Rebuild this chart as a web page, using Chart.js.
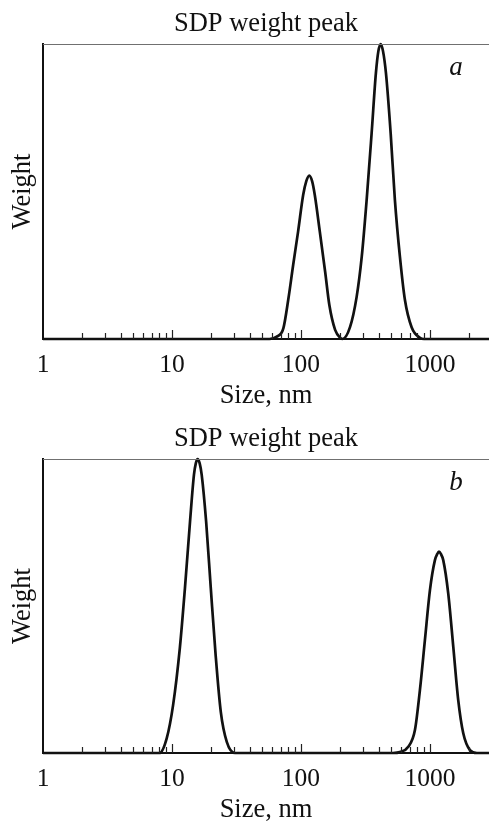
<!DOCTYPE html>
<html>
<head>
<meta charset="utf-8">
<script src="https://cdn.jsdelivr.net/npm/chart.js@4.4.0/dist/chart.umd.min.js"></script>
<style>
  html, body { margin: 0; padding: 0; background: #fff; }
  canvas { display: block; }
</style>
</head>
<body>
<canvas id="chartA" width="489" height="412"></canvas>
<canvas id="chartB" width="489" height="413"></canvas>
<script>
// ---------- data ----------
const sizesA = [1, 57, 65, 73, 80, 87, 95, 104, 110, 116, 122, 128, 140, 154, 166, 184, 203, 210,
                240, 270, 296, 323, 353, 381, 398, 415, 433, 456, 496, 535, 585, 640, 721, 836, 900, 2870];
const weightsA = [0, 0, 0.008, 0.036, 0.138, 0.251, 0.364, 0.488, 0.535, 0.554, 0.535, 0.488, 0.364, 0.228, 0.115, 0.031, 0.003, 0,
                  0.04, 0.142, 0.279, 0.471, 0.697, 0.901, 0.975, 1.0, 0.975, 0.901, 0.697, 0.471, 0.279, 0.132, 0.04, 0.004, 0, 0];

const sizesB = [1, 8.0, 9.1, 10.2, 11.5, 12.6, 13.8, 14.8, 15.3, 15.8, 16.4, 17.0, 18.4, 20.0, 21.8, 23.9, 26.6, 30.8,
                517, 585, 679, 765, 836, 914, 1000, 1093, 1140, 1175, 1215, 1268, 1386, 1517, 1657, 1813, 2042, 2313, 2870];
const weightsB = [0, 0, 0.05, 0.163, 0.356, 0.56, 0.787, 0.946, 0.985, 1.0, 0.985, 0.946, 0.787, 0.56, 0.333, 0.14, 0.038, 0,
                  0, 0.003, 0.021, 0.078, 0.214, 0.384, 0.554, 0.656, 0.677, 0.685, 0.677, 0.656, 0.543, 0.361, 0.18, 0.067, 0.01, 0, 0];

const majorTicks = [1, 10, 100, 1000];
const tickLabels = ['1', '10', '100', '1000'];
const minorTicks = [2, 3, 4, 5, 6, 7, 8, 9, 20, 30, 40, 50, 60, 70, 80, 90,
                    200, 300, 400, 500, 600, 700, 800, 900, 2000];
const xMax = 2870;

const FONT = "'Liberation Serif', 'Times New Roman', serif";
const TEXT_SIZE = 26.5;

// top frame line, inward ticks and panel letter
const frameAndTicks = {
    id: 'frameAndTicks',
    afterDraw(chart, args, opts) {
        const { ctx, chartArea: a, scales: { x } } = chart;
        ctx.save();
        ctx.strokeStyle = '#707070';
        ctx.lineWidth = 1;
        ctx.beginPath();
        ctx.moveTo(a.left, a.top + 0.5);
        ctx.lineTo(a.right, a.top + 0.5);
        ctx.stroke();

        ctx.strokeStyle = '#222';
        ctx.lineWidth = 1.2;
        const tick = (v, len) => {
            const px = Math.round(x.getPixelForValue(v)) + 0.5;
            if (px <= a.left + 2 || px >= a.right) return;
            ctx.beginPath();
            ctx.moveTo(px, a.bottom);
            ctx.lineTo(px, a.bottom - len);
            ctx.stroke();
        };
        minorTicks.forEach(v => tick(v, 6));
        majorTicks.forEach(v => tick(v, 9));

        ctx.font = `italic 27px ${FONT}`;
        ctx.fillStyle = '#111';
        ctx.textAlign = 'center';
        ctx.textBaseline = 'alphabetic';
        ctx.fillText(opts.letter, a.right - 33, a.top + 31);
        ctx.restore();
    }
};

function makePanel(id, sizes, weights, letter, titleTop, plotTop, xAxisH, xTitleBottom) {
    const canvas = document.getElementById(id);
    return new Chart(canvas.getContext('2d'), {
        type: 'line',
        data: {
            datasets: [{
                data: sizes.map((s, i) => ({ x: s, y: weights[i] })),
                borderColor: '#111',
                borderWidth: 2.7,
                pointRadius: 0,
                cubicInterpolationMode: 'monotone',
                fill: false,
                clip: 4
            }]
        },
        options: {
            responsive: false,
            animation: false,
            devicePixelRatio: 1,
            layout: { padding: 0 },
            plugins: {
                legend: { display: false },
                tooltip: { enabled: false },
                title: {
                    display: true,
                    fullSize: false,
                    text: 'SDP weight peak',
                    color: '#111',
                    font: { family: FONT, size: TEXT_SIZE, weight: 'normal' },
                    padding: { top: titleTop, bottom: plotTop - titleTop - TEXT_SIZE * 1.2 }
                },
                frameAndTicks: { letter }
            },
            scales: {
                x: {
                    type: 'logarithmic',
                    min: 1,
                    max: xMax,
                    afterBuildTicks: s => { s.ticks = majorTicks.map(v => ({ value: v })); },
                    afterFit: s => { s.height = xAxisH; },
                    grid: { display: false },
                    border: { display: true, color: '#111', width: 2 },
                    ticks: {
                        autoSkip: false,
                        maxRotation: 0,
                        padding: 3,
                        color: '#111',
                        font: { family: FONT, size: 25.5 },
                        callback: v => tickLabels[majorTicks.indexOf(v)]
                    },
                    title: {
                        display: true,
                        text: 'Size, nm',
                        color: '#111',
                        font: { family: FONT, size: TEXT_SIZE },
                        padding: { top: 0, bottom: xTitleBottom }
                    }
                },
                y: {
                    min: 0,
                    max: 1,
                    afterFit: s => { s.width = 43; },
                    grid: { display: false },
                    border: { display: true, color: '#111', width: 2 },
                    ticks: { display: false },
                    title: {
                        display: true,
                        text: 'Weight',
                        color: '#111',
                        font: { family: FONT, size: TEXT_SIZE },
                        padding: { top: 7, bottom: 0 }
                    }
                }
            }
        },
        plugins: [frameAndTicks]
    });
}

makePanel('chartA', sizesA, weightsA, 'a', 8, 44, 73, 0);
makePanel('chartB', sizesB, weightsB, 'b', 11, 47, 72, -1);
</script>
</body>
</html>
